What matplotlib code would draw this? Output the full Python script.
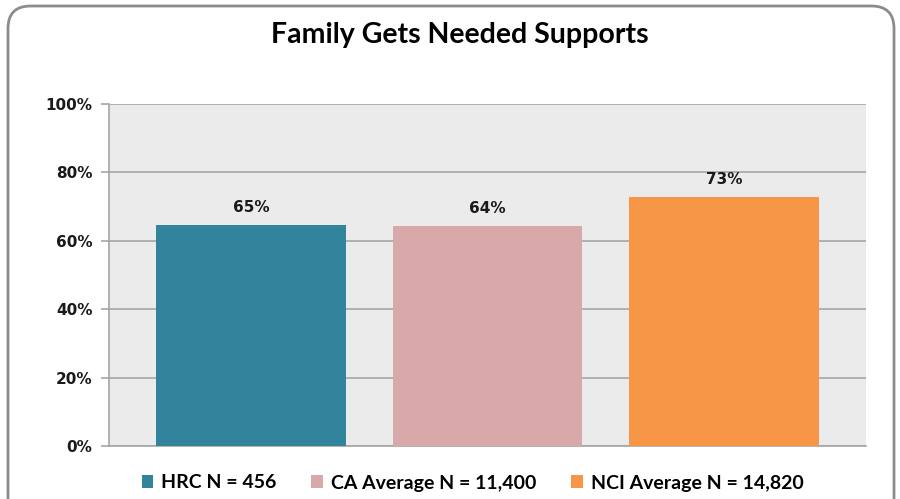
import matplotlib.pyplot as plt
from matplotlib.patches import FancyBboxPatch

# data
groups = ["HRC N = 456", "CA Average N = 11,400", "NCI Average N = 14,820"]
values = [64.6, 64.3, 72.7]
labels = ["65%", "64%", "73%"]
colors = ["#31849B", "#D9A9AA", "#F79646"]
yticks = [0, 20, 40, 60, 80, 100]

fig = plt.figure(figsize=(9, 4.99), dpi=100)

# rounded chart border (runs off the bottom edge)
border = FancyBboxPatch((8 / 900, -0.1), 886 / 900, 0.1 + 493 / 499,
                        boxstyle="round,pad=0,rounding_size=0.025",
                        transform=fig.transFigure, facecolor="white",
                        edgecolor="#8c8c8c", linewidth=2, clip_on=False,
                        mutation_aspect=900 / 499, zorder=-1)
fig.patches.append(border)

ax = fig.add_axes([109 / 900, 53 / 499, 757 / 900, 342 / 499])
ax.set_facecolor("#EBEBEB")

x = range(len(values))
bars = ax.bar(x, values, width=0.8, color=colors, label=groups, zorder=3)
for xi, v, lab in zip(x, values, labels):
    ax.text(xi, v + 3, lab, ha="center", va="bottom", fontsize=11,
            fontweight="bold", color="#1a1a1a", family="DejaVu Sans")

ax.set_xlim(-0.6, 2.6)
ax.set_ylim(0, 100)
ax.set_yticks(yticks)
ax.set_yticklabels([f"{t}%" for t in yticks], fontsize=11, fontweight="bold",
                   family="DejaVu Sans", color="#1a1a1a")
ax.set_xticks([])
ax.grid(axis="y", color="#A6A6A6", linewidth=1.2, zorder=1)
ax.tick_params(axis="y", length=6, color="#A6A6A6", width=1.2, pad=6)
for s in ["top", "right"]:
    ax.spines[s].set_visible(False)
for s in ["left", "bottom"]:
    ax.spines[s].set_color("#A6A6A6")
    ax.spines[s].set_linewidth(1.2)

fig.text(0.511, 464 / 499, "Family Gets Needed Supports", ha="center",
         va="center", fontsize=20.5, fontweight="bold", family="Lato")

fig.legend(handles=bars, labels=groups, loc="center", ncol=3,
           bbox_to_anchor=(0.525, 16 / 499), frameon=False,
           prop={"family": "Lato", "weight": "bold", "size": 14},
           handlelength=0.6, handleheight=0.6, handletextpad=0.4,
           columnspacing=1.8)

plt.savefig("out.png", dpi=100)
